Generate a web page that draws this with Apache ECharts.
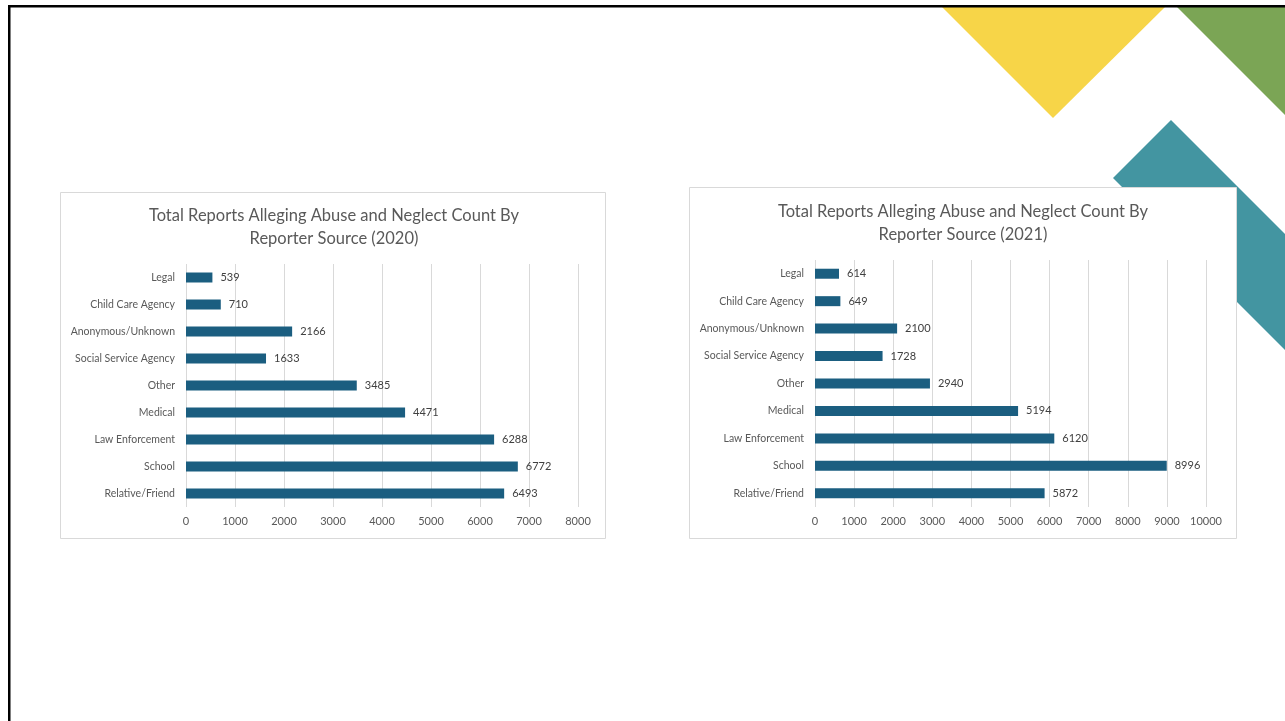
<!DOCTYPE html>
<html><head><meta charset="utf-8">
<script src="https://cdn.jsdelivr.net/npm/echarts@6/dist/echarts.min.js"></script>
<style>html,body{margin:0;padding:0;background:#fff}#c{width:1285px;height:721px}</style>
</head><body><div id="c"></div>
<script>
const categories = ['Legal','Child Care Agency','Anonymous/Unknown','Social Service Agency','Other','Medical','Law Enforcement','School','Relative/Friend'];
const values2020 = [539,710,2166,1633,3485,4471,6288,6772,6493];
const values2021 = [614,649,2100,1728,2940,5194,6120,8996,5872];
const title2020 = 'Total Reports Alleging Abuse and Neglect Count By\nReporter Source (2020)';
const title2021 = 'Total Reports Alleging Abuse and Neglect Count By\nReporter Source (2021)';

const FONT = 'Lato, "Open Sans", sans-serif';
const BAR = '#1b5e80';
const GRID = '#d9d9d9';

function xAx(idx, max){
  return {gridIndex: idx, type:'value', min:0, max:max, interval:1000,
    axisLine:{show:false}, axisTick:{show:false},
    splitLine:{lineStyle:{color:GRID, width:1}},
    axisLabel:{color:'#595959', fontSize:11, fontFamily:FONT, margin:9, formatter:function(v){return String(v);}}};
}
function yAx(idx){
  return {gridIndex: idx, type:'category', data:categories, inverse:true,
    axisLine:{show:false}, axisTick:{show:false},
    axisLabel:{color:'#595959', fontSize:10.5, fontFamily:FONT, margin:11}};
}
function ser(idx, data){
  return {type:'bar', xAxisIndex:idx, yAxisIndex:idx, data:data, barWidth:10,
    itemStyle:{color:BAR}, silent:true,
    label:{show:true, position:'right', distance:8, color:'#404040', fontSize:11, fontFamily:FONT}};
}

const chart = echarts.init(document.getElementById('c'), null, {renderer:'canvas'});
chart.setOption({
  animation:false,
  backgroundColor:'#fff',
  graphic:[
    {type:'polygon', z:-10, shape:{points:[[942,7],[1165,7],[1053,118]]}, style:{fill:'#f7d548'}},
    {type:'polygon', z:-10, shape:{points:[[1177,7],[1285,7],[1285,115]]}, style:{fill:'#7ba555'}},
    {type:'polygon', z:-10, shape:{points:[[1113,178],[1171,120],[1285,234],[1285,350]]}, style:{fill:'#4395a1'}},
    {type:'rect', z:-5, shape:{x:60.5,y:192.5,width:545,height:346}, style:{fill:'#fff', stroke:'#d9d9d9', lineWidth:1}},
    {type:'rect', z:-5, shape:{x:689.5,y:187.5,width:547,height:351}, style:{fill:'#fff', stroke:'#d9d9d9', lineWidth:1}},
    {type:'rect', z:-1, shape:{x:8,y:5,width:1277,height:2.5}, style:{fill:'#000'}},
    {type:'rect', z:-1, shape:{x:8,y:5,width:2.5,height:716}, style:{fill:'#000'}}
  ],
  title:[
    {text:title2020, left:329, top:199, textAlign:'center',
     textStyle:{fontFamily:FONT, fontSize:16.5, fontWeight:'normal', color:'#595959', lineHeight:23}},
    {text:title2021, left:958, top:195, textAlign:'center',
     textStyle:{fontFamily:FONT, fontSize:16.5, fontWeight:'normal', color:'#595959', lineHeight:23}}
  ],
  grid:[
    {left:186, width:392, top:264, height:243},
    {left:815, width:391, top:260, height:247}
  ],
  xAxis:[xAx(0,8000), xAx(1,10000)],
  yAxis:[yAx(0), yAx(1)],
  series:[ser(0, values2020), ser(1, values2021)]
});
</script></body></html>
